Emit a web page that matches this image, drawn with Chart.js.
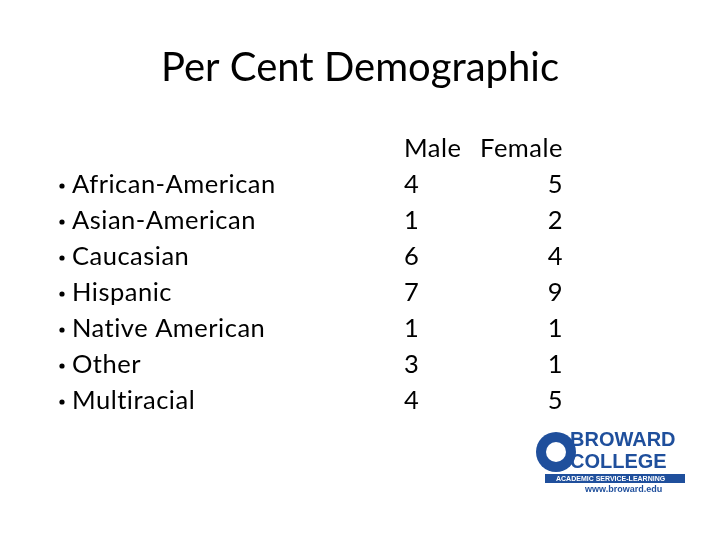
<!DOCTYPE html>
<html><head><meta charset="utf-8">
<script src="https://cdn.jsdelivr.net/npm/chart.js@4/dist/chart.umd.min.js"></script>
<style>html,body{margin:0;background:#fff}#w{width:720px;height:540px}</style>
</head><body><div id="w"><canvas id="c"></canvas></div>
<script>
const title = "Per Cent Demographic";
const categories = ["African-American","Asian-American","Caucasian","Hispanic","Native American","Other","Multiracial"];
const columns = ["Male","Female"];
const male = [4,1,6,7,1,3,4];
const female = [5,2,4,9,1,1,5];
const FONT = "Lato, sans-serif";

const tablePlugin = {
  id: "table",
  afterDraw(chart) {
    const ctx = chart.ctx, x = chart.scales.x, y = chart.scales.y;
    ctx.save();
    ctx.fillStyle = "#000";
    ctx.textBaseline = "middle";
    ctx.font = "40px " + FONT;
    ctx.textAlign = "center";
    ctx.fillText(title, 360, 68);
    ctx.font = "25.5px " + FONT;
    ctx.letterSpacing = "0.5px";
    ctx.textAlign = "left"; ctx.fillText(columns[0], x.getPixelForValue(0), y.getPixelForValue(-1));
    ctx.textAlign = "right"; ctx.fillText(columns[1], x.getPixelForValue(1), y.getPixelForValue(-1));
    categories.forEach((c, i) => {
      const py = y.getPixelForValue(i);
      ctx.textAlign = "left";
      ctx.beginPath(); ctx.arc(62, py + 1, 2.6, 0, Math.PI * 2); ctx.fill();
      ctx.fillText(c, 72, py);
      ctx.fillText(String(male[i]), x.getPixelForValue(0), py);
      ctx.textAlign = "right";
      ctx.fillText(String(female[i]), x.getPixelForValue(1), py);
    });
    ctx.letterSpacing = "0px";
    ctx.fillStyle = "#1f4f9c";
    ctx.beginPath(); ctx.arc(556, 452, 20, 0, Math.PI * 2); ctx.fill();
    ctx.fillStyle = "#fff";
    ctx.beginPath(); ctx.arc(556, 452, 10, 0, Math.PI * 2); ctx.fill();
    ctx.fillStyle = "#1f4f9c";
    ctx.textAlign = "left";
    ctx.font = "bold 20px 'Liberation Sans', sans-serif";
    ctx.fillText("BROWARD", 570, 440);
    ctx.fillText("COLLEGE", 570, 462);
    ctx.fillRect(545, 474, 140, 9);
    ctx.fillStyle = "#fff";
    ctx.font = "bold 7px 'Liberation Sans', sans-serif";
    ctx.fillText("ACADEMIC SERVICE-LEARNING", 556, 479);
    ctx.fillStyle = "#1f4f9c";
    ctx.font = "bold 9px 'Liberation Sans', sans-serif";
    ctx.fillText("www.broward.edu", 585, 490);
    ctx.restore();
  }
};

new Chart(document.getElementById("c"), {
  type: "scatter",
  data: { datasets: [
    { label: columns[0], data: male.map((v, i) => ({ x: 0, y: i })), pointRadius: 0 },
    { label: columns[1], data: female.map((v, i) => ({ x: 1, y: i })), pointRadius: 0 }
  ]},
  options: {
    responsive: true, maintainAspectRatio: false, animation: false,
    layout: { padding: { left: 404, right: 157, top: 149, bottom: 139 } },
    plugins: { legend: { display: false }, tooltip: { enabled: false } },
    scales: {
      x: { type: "linear", min: 0, max: 1, display: false },
      y: { type: "linear", min: -1, max: 6, reverse: true, display: false }
    }
  },
  plugins: [tablePlugin]
});
</script></body></html>
